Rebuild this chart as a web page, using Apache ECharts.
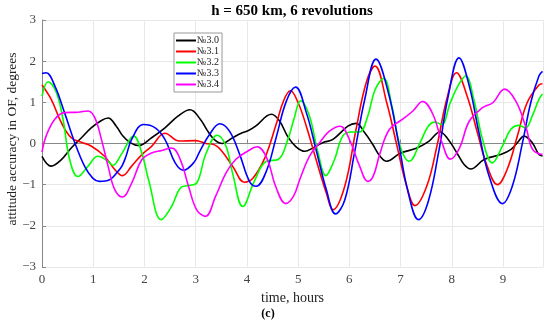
<!DOCTYPE html>
<html>
<head>
<meta charset="utf-8">
<script src="https://cdn.jsdelivr.net/npm/echarts@6/dist/echarts.min.js"></script>
<style>html,body{margin:0;padding:0;background:#fff}#c{width:550px;height:325px}</style>
</head>
<body>
<div id="c"></div>
<script>
const seriesNames = ['№3.0', '№3.1', '№3.2', '№3.3', '№3.4'];
const xTicks = [0, 1, 2, 3, 4, 5, 6, 7, 8, 9];
const yTicks = [-3, -2, -1, 0, 1, 2, 3];

const s30 = [[0,-0.31],[0.18,-0.55],[0.38,-0.39],[0.57,-0.11],[0.77,0.14],[0.96,0.38],[1.16,0.56],[1.29,0.62],[1.45,0.42],[1.58,0.18],[1.72,0.02],[1.88,-0.05],[2.14,0.14],[2.4,0.38],[2.66,0.67],[2.89,0.82],[3.09,0.59],[3.22,0.33],[3.36,0.1],[3.52,0.0],[3.72,0.14],[3.91,0.26],[4.04,0.32],[4.17,0.42],[4.48,0.71],[4.64,0.54],[4.8,0.16],[4.96,-0.08],[5.13,-0.19],[5.3,-0.1],[5.48,0.02],[5.68,0.1],[5.97,0.42],[6.13,0.49],[6.3,0.26],[6.46,-0.03],[6.6,-0.31],[6.73,-0.43],[6.99,-0.24],[7.32,-0.11],[7.55,0.05],[7.77,0.28],[7.93,0.1],[8.1,-0.23],[8.24,-0.51],[8.37,-0.62],[8.63,-0.39],[8.95,-0.27],[9.15,-0.15],[9.28,0.02],[9.41,0.18],[9.57,0.02],[9.7,-0.27],[9.77,-0.3]];

const s31 = [[0,1.42],[0.18,1.07],[0.38,0.5],[0.57,0.14],[0.77,0.03],[0.96,-0.06],[1.22,-0.31],[1.42,-0.63],[1.57,-0.78],[1.75,-0.55],[1.95,-0.27],[2.14,-0.07],[2.4,0.25],[2.68,0.06],[3.0,0.07],[3.2,0.0],[3.34,-0.02],[3.5,-0.17],[3.73,-0.57],[3.95,-0.94],[4.12,-0.84],[4.35,-0.35],[4.57,0.46],[4.72,1.05],[4.85,1.28],[5.0,0.99],[5.16,0.42],[5.35,-0.39],[5.55,-1.2],[5.68,-1.61],[5.91,-1.04],[6.13,0.34],[6.33,1.48],[6.5,1.88],[6.73,0.99],[6.93,-0.06],[7.12,-1.04],[7.28,-1.51],[7.51,-1.04],[7.71,-0.06],[7.9,1.07],[8.09,1.72],[8.3,1.15],[8.5,0.26],[8.69,-0.55],[8.89,-1.0],[9.08,-0.63],[9.28,0.18],[9.47,0.99],[9.7,1.42],[9.77,1.45]];

const s32 = [[0,1.15],[0.12,1.5],[0.28,1.24],[0.41,0.59],[0.54,-0.39],[0.7,-0.8],[0.9,-0.55],[1.09,-0.31],[1.29,-0.43],[1.38,-0.53],[1.56,-0.24],[1.79,0.18],[1.95,-0.24],[2.08,-0.88],[2.33,-1.85],[2.53,-1.53],[2.7,-1.08],[2.86,-1.02],[3.02,-0.96],[3.2,-0.25],[3.42,0.2],[3.59,-0.06],[3.72,-0.72],[3.92,-1.53],[4.15,-0.9],[4.38,-0.43],[4.61,-0.39],[4.8,0.1],[4.92,0.6],[5.05,1.04],[5.22,0.67],[5.39,-0.23],[5.54,-0.78],[5.71,-0.39],[5.87,0.18],[6.04,0.28],[6.2,0.28],[6.36,0.67],[6.5,1.3],[6.67,1.58],[6.83,0.91],[6.99,-0.06],[7.17,-0.43],[7.38,0.02],[7.54,0.42],[7.67,0.52],[7.8,0.46],[7.97,0.99],[8.12,1.4],[8.27,1.64],[8.43,1.07],[8.6,0.1],[8.79,-0.47],[8.99,-0.06],[9.15,0.34],[9.31,0.44],[9.44,0.38],[9.57,0.67],[9.7,1.07],[9.77,1.2]];

const s33 = [[0,1.7],[0.08,1.72],[0.25,1.4],[0.44,0.75],[0.64,0.02],[0.83,-0.55],[0.99,-0.84],[1.12,-0.92],[1.32,-0.88],[1.48,-0.68],[1.56,-0.55],[1.64,-0.31],[1.75,0.1],[1.98,0.46],[2.21,0.38],[2.4,0.1],[2.6,-0.47],[2.76,-0.65],[2.96,-0.47],[3.08,-0.19],[3.27,0.22],[3.47,0.48],[3.66,0.3],[3.86,-0.27],[4.05,-0.92],[4.18,-1.04],[4.38,-0.67],[4.57,0.14],[4.77,1.03],[4.95,1.37],[5.16,0.75],[5.35,-0.15],[5.55,-1.12],[5.73,-1.71],[5.91,-1.37],[6.1,-0.23],[6.3,1.07],[6.52,2.05],[6.76,1.24],[6.96,0.02],[7.15,-1.2],[7.35,-1.85],[7.54,-1.41],[7.74,-0.23],[7.93,1.15],[8.14,2.08],[8.34,1.4],[8.53,0.26],[8.73,-0.8],[8.99,-1.46],[9.18,-1.04],[9.38,0.02],[9.54,0.99],[9.7,1.64],[9.77,1.75]];

const s34 = [[0,-0.21],[0.08,0.18],[0.25,0.59],[0.44,0.75],[0.7,0.76],[0.9,0.79],[1.03,0.63],[1.16,0.1],[1.29,-0.55],[1.42,-1.12],[1.57,-1.3],[1.75,-0.96],[1.95,-0.39],[2.14,-0.23],[2.34,-0.17],[2.53,-0.11],[2.7,-0.39],[2.86,-1.04],[3.02,-1.61],[3.19,-1.77],[3.39,-1.28],[3.59,-0.72],[3.78,-0.39],[4.01,-0.19],[4.2,-0.08],[4.4,-0.39],[4.56,-1.04],[4.76,-1.46],[4.91,-1.28],[5.03,-0.88],[5.22,-0.31],[5.42,0.02],[5.61,0.3],[5.82,0.42],[6.0,0.1],[6.2,-0.55],[6.36,-0.92],[6.47,-0.78],[6.59,-0.27],[6.78,0.34],[7.04,0.59],[7.24,0.79],[7.43,1.02],[7.63,0.71],[7.82,-0.02],[7.97,-0.38],[8.15,-0.11],[8.34,0.54],[8.6,0.87],[8.8,0.99],[9.03,1.32],[9.25,1.03],[9.45,0.38],[9.58,-0.15],[9.77,-0.27]];

const seriesData = [s30, s31, s32, s33, s34];
const colors = ['#000000', '#ff0000', '#00ff00', '#0000ff', '#ff00ff'];

const serif = '"Liberation Serif", "Times New Roman", serif';
const chart = echarts.init(document.getElementById('c'), null, {renderer: 'canvas'});
const minus = v => String(v).replace('-', '\u2212');

chart.setOption({
  animation: false,
  backgroundColor: '#ffffff',
  grid: {left: 42, right: 7, top: 20, bottom: 58, containLabel: false, outerBoundsMode: 'none'},
  graphic: [
    {type: 'text', x: 292, y: 4, style: {text: 'h = 650 km, 6 revolutions', font: 'bold 15px ' + serif, fill: '#000', textAlign: 'center'}},
    {type: 'text', x: 268, y: 308, style: {text: '(c)', font: 'bold 12px ' + serif, fill: '#000', textAlign: 'center'}},
    {type: 'text', x: 12, y: 139, rotation: Math.PI / 2, style: {text: 'attitude accuracy in OF, degrees', font: '13.5px ' + serif, fill: '#222', textAlign: 'center', textVerticalAlign: 'middle'}}
  ],
  legend: {
    orient: 'vertical', left: 174, top: 33,
    data: seriesNames,
    icon: 'rect',
    itemWidth: 20, itemHeight: 2, itemGap: 0,
    padding: [2, 3, 2, 2],
    borderColor: '#999', borderWidth: 1, backgroundColor: '#fff',
    textStyle: {fontFamily: serif, fontSize: 10, color: '#222', lineHeight: 11, padding: [0,0,0,-4]}
  },
  xAxis: {
    type: 'value', min: 0, max: 9.78, interval: 1,
    name: 'time, hours', nameLocation: 'middle', nameGap: 23,
    nameTextStyle: {fontFamily: serif, fontSize: 14, color: '#222'},
    axisLine: {show: true, lineStyle: {color: '#888', width: 1}},
    axisTick: {show: true, inside: true, length: 4, lineStyle: {color: '#888'}},
    axisLabel: {fontFamily: serif, fontSize: 13, color: '#444', margin: 6, showMaxLabel: false,
      formatter: v => xTicks.includes(v) ? minus(v) : ''},
    splitLine: {show: true, lineStyle: {color: '#e8e8e8', width: 1}}
  },
  yAxis: {
    type: 'value', min: yTicks[0], max: yTicks[yTicks.length - 1], interval: 1,
    axisLine: {show: true, lineStyle: {color: '#888', width: 1}},
    axisTick: {show: true, inside: true, length: 4, lineStyle: {color: '#888'}},
    axisLabel: {fontFamily: serif, fontSize: 13, color: '#444', margin: 6, formatter: v => minus(v)},
    splitLine: {show: true, lineStyle: {color: '#e8e8e8', width: 1}}
  },
  series: seriesNames.map((n, i) => ({
    name: n, type: 'line', data: seriesData[i], smooth: 0.4,
    symbol: 'none', showSymbol: false,
    lineStyle: {color: colors[i], width: 1.6},
    itemStyle: {color: colors[i]}
  }))
});
</script>
</body>
</html>
